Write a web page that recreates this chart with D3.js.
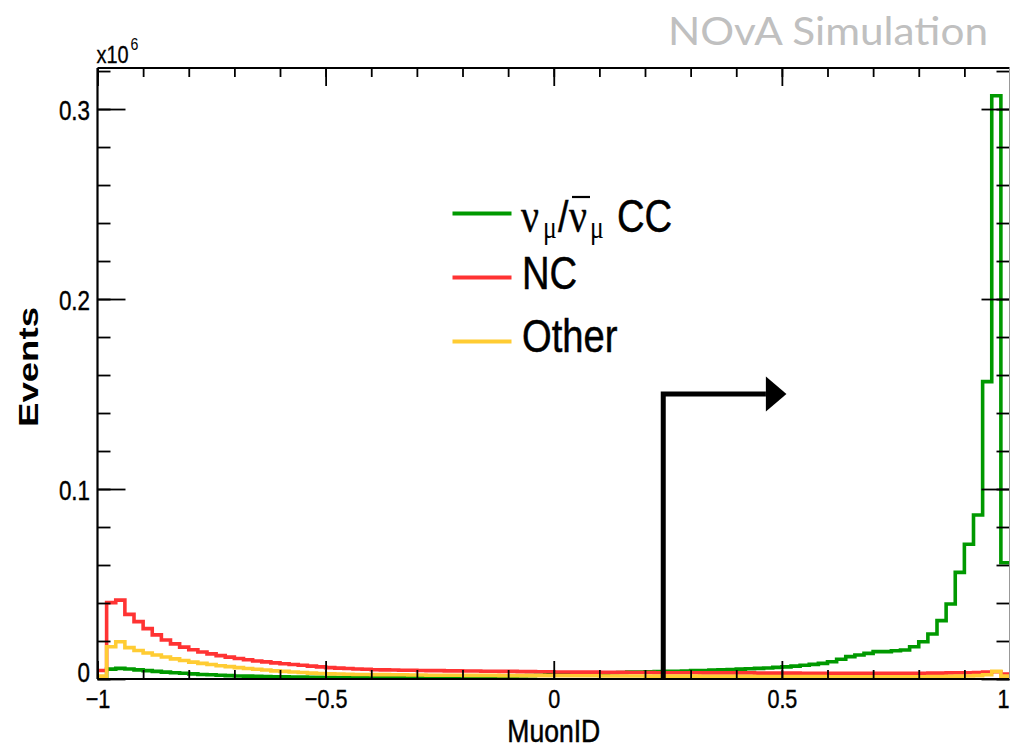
<!DOCTYPE html>
<html>
<head>
<meta charset="utf-8">
<script src="https://cdn.jsdelivr.net/npm/d3@7"></script>
<style>
  html, body { margin: 0; padding: 0; background: #fff; }
  svg { display: block; }
</style>
</head>
<body>
<svg id="chart" width="1010" height="750"></svg>
<script>
// ---------------- DATA (values in units of 1e6 events) ----------------
const nBins = 100;
const xMin = -1, xMax = 1;
const binLow = d3.range(nBins).map(i => xMin + i * (xMax - xMin) / nBins);

const numuCC = [
  0.0005, 0.0052, 0.0056, 0.0053, 0.0048, 0.0044, 0.0040, 0.0036, 0.0033, 0.0030,
  0.0027, 0.0024, 0.0022, 0.0020, 0.0018, 0.0016, 0.0015, 0.0014, 0.0013, 0.0012,
  0.0011, 0.0010, 0.0010, 0.0009, 0.0009, 0.0009, 0.0008, 0.0008, 0.0008, 0.0008,
  0.0008, 0.0008, 0.0008, 0.0008, 0.0008, 0.0008, 0.0009, 0.0009, 0.0010, 0.0010,
  0.0011, 0.0011, 0.0012, 0.0013, 0.0014, 0.0015, 0.0016, 0.0018, 0.0020, 0.0022,
  0.0024, 0.0026, 0.0028, 0.0029, 0.0030, 0.0031, 0.0033, 0.0034, 0.0036, 0.0037,
  0.0038, 0.0039, 0.0040, 0.0041, 0.0042, 0.0044, 0.0045, 0.0047, 0.0048, 0.0050,
  0.0052, 0.0054, 0.0056, 0.0058, 0.0061, 0.0064, 0.0068, 0.0072, 0.0077, 0.0082,
  0.0091, 0.0104, 0.0118, 0.0126, 0.0135, 0.0144, 0.0144, 0.0149, 0.0153, 0.0170,
  0.0196, 0.0237, 0.0307, 0.0395, 0.0561, 0.0709, 0.0863, 0.1565, 0.3070, 0.0612
];
const nc = [
  0.0045, 0.0402, 0.0415, 0.0340, 0.0302, 0.0265, 0.0232, 0.0205, 0.0185, 0.0168,
  0.0154, 0.0142, 0.0132, 0.0123, 0.0115, 0.0108, 0.0101, 0.0095, 0.0090, 0.0085,
  0.0080, 0.0076, 0.0072, 0.0068, 0.0064, 0.0060, 0.0057, 0.0055, 0.0053, 0.0051,
  0.0049, 0.0048, 0.0047, 0.0046, 0.0046, 0.0045, 0.0044, 0.0044, 0.0043, 0.0043,
  0.0042, 0.0042, 0.0041, 0.0041, 0.0040, 0.0040, 0.0039, 0.0039, 0.0038, 0.0038,
  0.0037, 0.0037, 0.0036, 0.0036, 0.0036, 0.0035, 0.0035, 0.0035, 0.0034, 0.0034,
  0.0034, 0.0033, 0.0033, 0.0033, 0.0033, 0.0033, 0.0032, 0.0032, 0.0032, 0.0032,
  0.0032, 0.0032, 0.0031, 0.0031, 0.0031, 0.0031, 0.0031, 0.0030, 0.0030, 0.0030,
  0.0030, 0.0030, 0.0030, 0.0030, 0.0030, 0.0030, 0.0030, 0.0030, 0.0030, 0.0030,
  0.0030, 0.0031, 0.0031, 0.0032, 0.0032, 0.0033, 0.0034, 0.0036, 0.0038, 0.0026
];
const other = [
  0.0015, 0.0170, 0.0196, 0.0165, 0.0150, 0.0137, 0.0126, 0.0116, 0.0106, 0.0097,
  0.0089, 0.0082, 0.0076, 0.0070, 0.0065, 0.0060, 0.0055, 0.0051, 0.0047, 0.0043,
  0.0040, 0.0037, 0.0034, 0.0031, 0.0029, 0.0027, 0.0026, 0.0025, 0.0024, 0.0024,
  0.0023, 0.0023, 0.0022, 0.0022, 0.0021, 0.0021, 0.0020, 0.0020, 0.0020, 0.0020,
  0.0019, 0.0019, 0.0019, 0.0019, 0.0018, 0.0018, 0.0018, 0.0018, 0.0018, 0.0017,
  0.0017, 0.0017, 0.0017, 0.0017, 0.0017, 0.0016, 0.0016, 0.0016, 0.0016, 0.0016,
  0.0015, 0.0015, 0.0015, 0.0015, 0.0015, 0.0015, 0.0014, 0.0014, 0.0014, 0.0014,
  0.0014, 0.0014, 0.0013, 0.0013, 0.0013, 0.0013, 0.0013, 0.0013, 0.0013, 0.0013,
  0.0012, 0.0012, 0.0012, 0.0012, 0.0012, 0.0012, 0.0012, 0.0012, 0.0012, 0.0012,
  0.0012, 0.0013, 0.0013, 0.0014, 0.0015, 0.0016, 0.0018, 0.0022, 0.0040, 0.0015
];

const seriesNames = ["numuCC", "NC", "Other"];
const seriesColors = ["#009900", "#ff3333", "#ffcc33"];
const seriesValues = [numuCC, nc, other];

const xMajorTicks = [-1, -0.5, 0, 0.5, 1];
const xTickLabels = ["\u22121", "\u22120.5", "0", "0.5", "1"];
const xMinorTicks = d3.range(-1, 1.0001, 0.1).map(v => +v.toFixed(2));
const yMajorTicks = [0, 0.1, 0.2, 0.3];
const yTickLabels = ["0", "0.1", "0.2", "0.3"];
const yMinorTicks = d3.range(0, 0.321, 0.02).map(v => +v.toFixed(2));
const yMax = 0.3216;

// cut arrow (MuonID cut value, arrow height in 1e6 events, arrow tip)
const cutX = 0.24, cutY = 0.15, arrowEndX = 0.465, arrowTipX = 0.51;

// ---------------- LAYOUT ----------------
const L = 97.5, R = 1009.5, T = 68, B = 679;
const sx = 0.83; // horizontal squeeze of the text
const svg = d3.select("#chart");

const x = d3.scaleLinear().domain([xMin, xMax]).range([L, 1010]);
const y = d3.scaleLinear().domain([0, yMax]).range([B, T]);

const FONT = "'Liberation Sans', Arimo, Helvetica, Arial, sans-serif";
const SERIF = "'Liberation Serif', 'DejaVu Serif', Times, serif";

function txt(px, py, s, size, opts = {}) {
  const g = svg.append("g")
    .attr("transform", `translate(${px},${py}) ${opts.rotate ? `rotate(${opts.rotate})` : ""} scale(${opts.scale ?? sx},1)`);
  const t = g.append("text")
    .attr("x", 0).attr("y", 0)
    .attr("text-anchor", opts.anchor || "start")
    .attr("font-family", opts.family || FONT)
    .attr("font-size", size)
    .attr("font-weight", opts.weight || "normal")
    .attr("fill", opts.fill || "#000")
    .text(s);
  if (opts.stroke) t.attr("stroke", opts.fill || "#000").attr("stroke-width", opts.stroke);
  if (opts.textLength) t.attr("textLength", opts.textLength).attr("lengthAdjust", "spacingAndGlyphs");
  return t;
}

// clip
svg.append("defs").append("clipPath").attr("id", "plotclip")
  .append("rect").attr("x", L).attr("y", T).attr("width", R - L).attr("height", B - T);

// ---------------- HISTOGRAMS ----------------
const stepLine = d3.line()
  .x(d => x(d[0]))
  .y(d => y(d[1]))
  .curve(d3.curveStepAfter);

const plot = svg.append("g").attr("clip-path", "url(#plotclip)");
seriesValues.forEach((vals, si) => {
  const pts = binLow.map((lo, i) => [lo, vals[i]]);
  pts.push([xMax, vals[nBins - 1]]);
  plot.append("path")
    .attr("d", stepLine(pts))
    .attr("fill", "none")
    .attr("stroke", seriesColors[si])
    .attr("stroke-width", 3.6)
    .attr("stroke-linejoin", "miter");
});

// ---------------- AXES ----------------
function styleAxis(g) {
  g.select(".domain").remove();
  g.selectAll("line").attr("stroke", "#000").attr("stroke-width", 1.8);
}
// bottom
svg.append("g").attr("transform", `translate(0,${B})`)
  .call(d3.axisBottom(x).tickValues(xMinorTicks).tickSize(-9).tickFormat(""))
  .call(styleAxis);
const xb = svg.append("g").attr("transform", `translate(0,${B})`)
  .call(d3.axisBottom(x).tickValues(xMajorTicks).tickSize(-18).tickPadding(11)
    .tickFormat((d, i) => xTickLabels[i]))
  .call(styleAxis);
xb.selectAll("text").attr("font-family", FONT).attr("font-size", 26).attr("fill", "#000")
  .attr("stroke", "#000").attr("stroke-width", 0.4)
  .attr("text-anchor", d => d === 1 ? "end" : "middle")
  .attr("transform", d => d === 1 ? `translate(-1,0) scale(${sx},1)` : `scale(${sx},1)`);
// top
svg.append("g").attr("transform", `translate(0,${T})`)
  .call(d3.axisTop(x).tickValues(xMinorTicks).tickSize(-9).tickFormat(""))
  .call(styleAxis);
svg.append("g").attr("transform", `translate(0,${T})`)
  .call(d3.axisTop(x).tickValues(xMajorTicks).tickSize(-18).tickFormat(""))
  .call(styleAxis);
// left
svg.append("g").attr("transform", `translate(${L},0)`)
  .call(d3.axisLeft(y).tickValues(yMinorTicks).tickSize(-13).tickFormat(""))
  .call(styleAxis);
const yl = svg.append("g").attr("transform", `translate(${L},0)`)
  .call(d3.axisLeft(y).tickValues(yMajorTicks).tickSize(-28).tickPadding(9)
    .tickFormat((d, i) => yTickLabels[i]))
  .call(styleAxis);
yl.selectAll("text").attr("font-family", FONT).attr("font-size", 27).attr("fill", "#000")
  .attr("stroke", "#000").attr("stroke-width", 0.4)
  .attr("dy", "0.38em")
  .attr("transform", d => d === 0 ? `translate(0,-8) scale(${sx},1)` : `scale(${sx},1)`);
// right
svg.append("g").attr("transform", `translate(${R},0)`)
  .call(d3.axisRight(y).tickValues(yMinorTicks).tickSize(-13).tickFormat(""))
  .call(styleAxis);
svg.append("g").attr("transform", `translate(${R},0)`)
  .call(d3.axisRight(y).tickValues(yMajorTicks).tickSize(-28).tickFormat(""))
  .call(styleAxis);

// frame
svg.append("line").attr("x1", L).attr("x2", L).attr("y1", T).attr("y2", B).attr("stroke", "#000").attr("stroke-width", 2.2);
svg.append("line").attr("x1", L).attr("x2", R).attr("y1", B).attr("y2", B).attr("stroke", "#000").attr("stroke-width", 2.2);
svg.append("line").attr("x1", L).attr("x2", R).attr("y1", T).attr("y2", T).attr("stroke", "#000").attr("stroke-width", 2.2);
svg.append("line").attr("x1", R).attr("x2", R).attr("y1", T).attr("y2", B).attr("stroke", "#999").attr("stroke-width", 1);

// ---------------- CUT ARROW ----------------
svg.append("path")
  .attr("d", d3.line()([[x(cutX), y(0)], [x(cutX), y(cutY)], [x(arrowEndX), y(cutY)]]))
  .attr("fill", "none").attr("stroke", "#000").attr("stroke-width", 5);
svg.append("path")
  .attr("d", d3.line()([[x(arrowEndX), y(cutY) - 17.5], [x(arrowTipX), y(cutY)], [x(arrowEndX), y(cutY) + 17.5]]) + "Z")
  .attr("fill", "#000");

// ---------------- TITLES ----------------
txt(L - 1, 63, "x10", 24, { stroke: 0.3 });
txt(130.5, 50, "6", 17);
txt((L + 1010) / 2, 742, "MuonID", 32, { anchor: "middle", stroke: 0.5 });
txt(38, 367, "Events", 28, { anchor: "middle", rotate: -90, scale: 1, textLength: 120, weight: "bold" });
txt(668, 45, "NOvA Simulation", 39, { family: "Lato, 'Open Sans', 'Noto Sans', sans-serif", fill: "#c0c0c0", scale: 1, textLength: 320 });

// ---------------- LEGEND ----------------
const legY = [213.5, 277.5, 341.5];
seriesNames.forEach((n, i) => {
  svg.append("line").attr("x1", 452.5).attr("x2", 511.5)
    .attr("y1", legY[i]).attr("y2", legY[i])
    .attr("stroke", seriesColors[i]).attr("stroke-width", 4);
});
// nu_mu / anti-nu_mu CC
txt(521, 232, "\u03bd", 48, { family: SERIF, stroke: 0.4 });
txt(543, 238, "\u03bc", 31, { family: SERIF });
txt(558, 232, "/", 45, { stroke: 0.5 });
txt(569, 232, "\u03bd", 48, { family: SERIF, stroke: 0.4 });
svg.append("line").attr("x1", 572).attr("x2", 590).attr("y1", 197).attr("y2", 197)
  .attr("stroke", "#000").attr("stroke-width", 2.2);
txt(590, 238, "\u03bc", 31, { family: SERIF });
txt(617, 232, "CC", 46, { stroke: 0.5 });
txt(522, 288.5, "NC", 46, { stroke: 0.5 });
txt(522, 352, "Other", 46, { stroke: 0.5 });
</script>
</body>
</html>
